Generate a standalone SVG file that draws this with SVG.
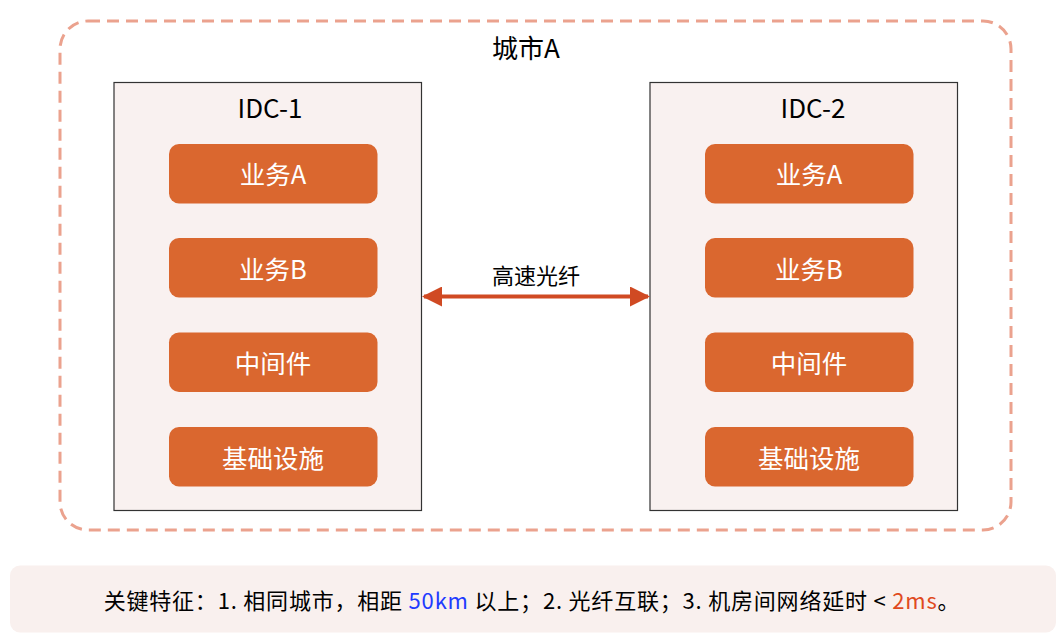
<svg xmlns="http://www.w3.org/2000/svg" width="1063" height="640" viewBox="0 0 1063 640">
<style>
text{font-family:"Noto Sans CJK SC","Noto Sans",sans-serif;text-anchor:middle}
.idc{fill:#F9F1F0;stroke:#333;stroke-width:1.2}
.blk{fill:#DA672F}
.bl{fill:#fff;font-size:25.5px}
.t{fill:#000;font-size:26px}
</style>
<defs>
<marker id="ah" markerWidth="5" markerHeight="5" refX="4.5" refY="2.5" orient="auto-start-reverse" markerUnits="strokeWidth"><path d="M0,0 L5,2.5 L0,5 z" fill="#D04A23"/></marker>
</defs>
<rect width="1063" height="640" fill="#fff"/>
<g id="city">
<rect x="60" y="21" width="951" height="509" rx="28" fill="none" stroke="#EBA28E" stroke-width="3" stroke-dasharray="12 7"/>
<text class="t" x="526" y="58">城市A</text>
</g>
<g id="idc1">
<rect class="idc" x="114" y="82.5" width="307.5" height="428"/>
<text class="t" x="270" y="118">IDC-1</text>
</g>
<g id="idc1-a"><rect class="blk" x="169" y="144" width="208.5" height="59.5" rx="10"/><text class="bl" x="273" y="184">业务A</text></g>
<g id="idc1-b"><rect class="blk" x="169" y="238" width="208.5" height="59.5" rx="10"/><text class="bl" x="273" y="278.5">业务B</text></g>
<g id="idc1-m"><rect class="blk" x="169" y="332.5" width="208.5" height="59.5" rx="10"/><text class="bl" x="273" y="373">中间件</text></g>
<g id="idc1-i"><rect class="blk" x="169" y="427" width="208.5" height="59.5" rx="10"/><text class="bl" x="273" y="467.5">基础设施</text></g>
<g id="idc2">
<rect class="idc" x="650" y="82.5" width="307.5" height="428"/>
<text class="t" x="813" y="118">IDC-2</text>
</g>
<g id="idc2-a"><rect class="blk" x="705" y="144" width="208.5" height="59.5" rx="10"/><text class="bl" x="809" y="184">业务A</text></g>
<g id="idc2-b"><rect class="blk" x="705" y="238" width="208.5" height="59.5" rx="10"/><text class="bl" x="809" y="278.5">业务B</text></g>
<g id="idc2-m"><rect class="blk" x="705" y="332.5" width="208.5" height="59.5" rx="10"/><text class="bl" x="809" y="373">中间件</text></g>
<g id="idc2-i"><rect class="blk" x="705" y="427" width="208.5" height="59.5" rx="10"/><text class="bl" x="809" y="467.5">基础设施</text></g>
<g id="connectors">
<line x1="424" y1="296.5" x2="648" y2="296.5" stroke="#D04A23" stroke-width="4" marker-start="url(#ah)" marker-end="url(#ah)"/>
<text x="536" y="284" font-size="22" fill="#000">高速光纤</text>
</g>
<g id="note">
<rect x="10" y="565.5" width="1046" height="67" rx="10" fill="#F9F0EE"/>
<text x="532" y="609" font-size="22" letter-spacing="0.8" fill="#000">关键特征：1. 相同城市，相距 <tspan fill="#1F3BFF">50km</tspan> 以上；2. 光纤互联；3. 机房间网络延时 &lt; <tspan fill="#E04A1E">2ms</tspan>。</text>
</g>
</svg>
